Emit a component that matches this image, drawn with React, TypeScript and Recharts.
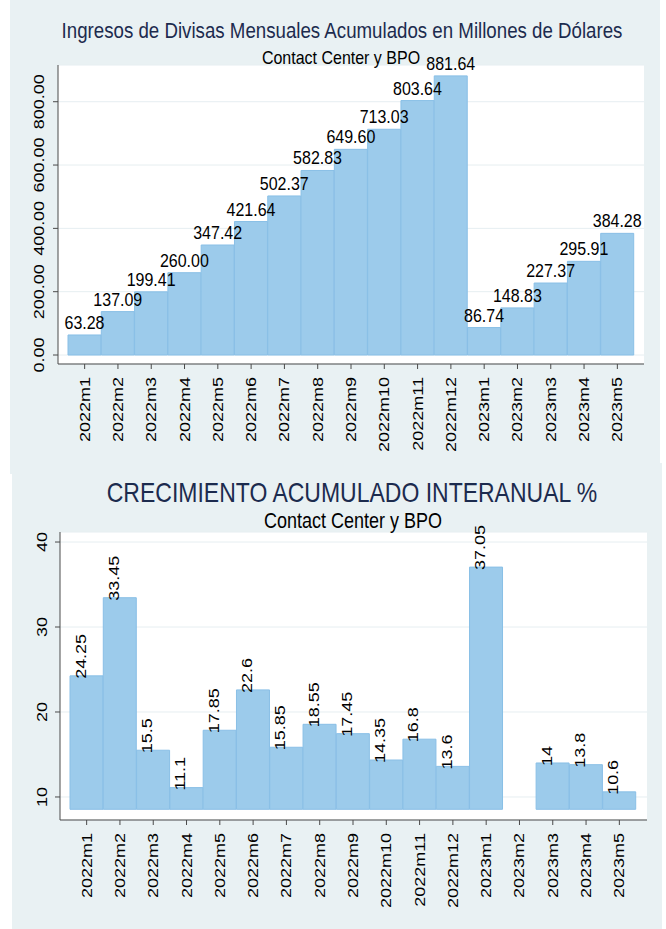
import React from 'react';
import { BarChart, Bar, XAxis, YAxis, CartesianGrid, LabelList } from 'recharts';

const months = [
    '2022m1', '2022m2', '2022m3', '2022m4', '2022m5', '2022m6', '2022m7', '2022m8', '2022m9',
    '2022m10', '2022m11', '2022m12', '2023m1', '2023m2', '2023m3', '2023m4', '2023m5',
];

// millones de USD acumulados
const ingresos = [
    63.28, 137.09, 199.41, 260.0, 347.42, 421.64, 502.37, 582.83, 649.6,
    713.03, 803.64, 881.64, 86.74, 148.83, 227.37, 295.91, 384.28,
];

// crecimiento acumulado interanual %
const crecimiento = [
    24.25, 33.45, 15.5, 11.1, 17.85, 22.6, 15.85, 18.55, 17.45,
    14.35, 16.8, 13.6, 37.05, 8.55, 14, 13.8, 10.6,
];

const ingresosTicks = [0, 200, 400, 600, 800];
const crecimientoTicks = [10, 20, 30, 40];

const FONT = '"Liberation Sans", Arial, Helvetica, sans-serif';
const PANEL_BG = '#e9f1f3';
const BAR_FILL = '#9ccbeb';
const BAR_STROKE = '#89bfe6';
const GRID = '#e6eef1';
const AXIS = '#4a4a4a';
const NAVY = '#1c2b4e';
// the original export is a bit taller than wide, text looks stretched vertically
const SY = 1.2;

const minGrowth = Math.min(...crecimiento);

const topData = months.map((m, i) => ({ month: m, value: ingresos[i] }));
const bottomData = months.map((m, i) => ({ month: m, growth: crecimiento[i] }));

const SText = ({ x, y, rot = 0, size = 15, fill = '#000', anchor = 'middle', baseline, children }: any) => (
    <text
        transform={`translate(${x},${y}) scale(1,${SY}) rotate(${rot})`}
        x={0}
        y={0}
        textAnchor={anchor}
        dominantBaseline={baseline}
        fontSize={size}
        fontFamily={FONT}
        fill={fill}
    >
        {children}
    </text>
);

const RotatedYTick = (props: any) => {
    const { x, y, payload, fmt } = props;
    return <SText x={x} y={y} rot={-90}>{fmt(payload.value)}</SText>;
};

const RotatedXTick = (props: any) => {
    const { x, y, payload } = props;
    return (
        <SText x={x} y={y} rot={-90} anchor="end" baseline="central">
            {payload.value}
        </SText>
    );
};

const TopValueLabel = (props: any) => {
    const { x, y, width, value } = props;
    return (
        <SText x={x + width / 2} y={y - 6} size={16}>
            {Number(value).toFixed(2)}
        </SText>
    );
};

const VerticalValueLabel = (props: any) => {
    const { x, y, width, value } = props;
    return (
        <SText x={x + width / 2 - 1} y={y + 3} rot={-90} anchor="start">
            {String(value)}
        </SText>
    );
};

export default function App() {
    return (
        <div style={{ position: 'absolute', left: 0, top: 0, width: 666, height: 929, background: '#fff', overflow: 'hidden' }}>
            {/* panel 1 */}
            <div style={{ position: 'absolute', left: 10, top: 0, width: 650, height: 474, background: PANEL_BG }}>
                <BarChart
                    width={650}
                    height={474}
                    data={topData}
                    margin={{ top: 65, right: 16, bottom: 0, left: 0 }}
                    barCategoryGap={0}
                >
                    <CartesianGrid vertical={false} stroke={GRID} fill="#fff" />
                    <XAxis
                        dataKey="month"
                        height={110}
                        interval={0}
                        padding={{ left: 10, right: 10 }}
                        stroke={AXIS}
                        tickSize={5}
                        tickMargin={8}
                        tick={<RotatedXTick />}
                    />
                    <YAxis
                        width={48}
                        type="number"
                        domain={[-28.4, 916]}
                        ticks={ingresosTicks}
                        allowDataOverflow
                        stroke={AXIS}
                        tickSize={5}
                        tickMargin={9}
                        tick={<RotatedYTick fmt={(v: number) => v.toFixed(2)} />}
                    />
                    <Bar dataKey="value" fill={BAR_FILL} stroke={BAR_STROKE} strokeWidth={1} isAnimationActive={false}>
                        <LabelList dataKey="value" content={<TopValueLabel />} />
                    </Bar>
                </BarChart>
            </div>

            {/* panel 2 */}
            <div style={{ position: 'absolute', left: 12, top: 463, width: 650, height: 466, background: PANEL_BG }}>
                <BarChart
                    width={650}
                    height={466}
                    data={bottomData}
                    margin={{ top: 69, right: 15, bottom: 0, left: 0 }}
                    barCategoryGap={0}
                >
                    <CartesianGrid vertical={false} stroke={GRID} fill="#fff" />
                    <XAxis
                        dataKey="month"
                        height={109}
                        interval={0}
                        padding={{ left: 10, right: 11 }}
                        stroke={AXIS}
                        tickSize={5}
                        tickMargin={8}
                        tick={<RotatedXTick />}
                    />
                    <YAxis
                        width={48}
                        type="number"
                        domain={[7.29, 41.18]}
                        ticks={crecimientoTicks}
                        allowDataOverflow
                        stroke={AXIS}
                        tickSize={5}
                        tickMargin={8}
                        tick={<RotatedYTick fmt={(v: number) => String(v)} />}
                    />
                    <Bar
                        dataKey={(d: any) => [minGrowth, d.growth]}
                        fill={BAR_FILL}
                        stroke={BAR_STROKE}
                        strokeWidth={1}
                        isAnimationActive={false}
                    >
                        <LabelList dataKey="growth" content={<VerticalValueLabel />} />
                    </Bar>
                </BarChart>
            </div>

            {/* titles */}
            <svg width={666} height={929} style={{ position: 'absolute', left: 0, top: 0, pointerEvents: 'none' }}>
                <SText x={342} y={38} size={18.7} fill={NAVY}>
                    Ingresos de Divisas Mensuales Acumulados en Millones de Dólares
                </SText>
                <SText x={341} y={64} size={16}>
                    Contact Center y BPO
                </SText>
                <SText x={352} y={502} size={23} fill={NAVY}>
                    CRECIMIENTO ACUMULADO INTERANUAL %
                </SText>
                <SText x={353} y={528} size={18}>
                    Contact Center y BPO
                </SText>
            </svg>
        </div>
    );
}
